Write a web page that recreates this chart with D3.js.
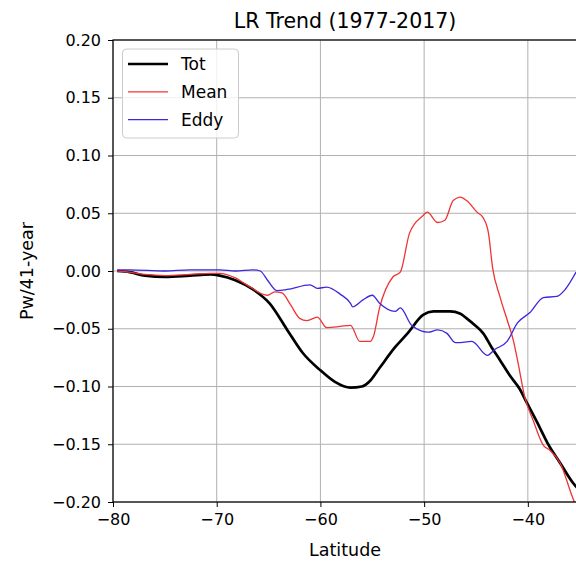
<!DOCTYPE html>
<html>
<head>
<meta charset="utf-8">
<script src="https://cdn.jsdelivr.net/npm/d3@7"></script>
<style>
  html, body { margin: 0; padding: 0; background: #fff; }
  svg { display: block; font-family: "DejaVu Sans", sans-serif; }
</style>
</head>
<body>
<svg id="chart" width="576" height="562"></svg>
<script>
// Long-term (1977-2017) trend of poleward transport by latitude
const totLat = [-79.6,-78.4,-76.9,-75.0,-72.6,-70.6,-69.7,-68.2,-66.5,-64.9,-63.2,-61.7,-60.0,-58.6,-57.1,-56.0,-55.2,-54.3,-52.8,-51.6,-50.1,-49.1,-47.5,-46.5,-45.9,-45.1,-44.3,-43.5,-42.7,-41.7,-40.8,-40.1,-39.1,-38.1,-36.9,-35.6,-35.0];
const totVal = [0,-0.001,-0.004,-0.005,-0.004,-0.003,-0.004,-0.008,-0.016,-0.028,-0.051,-0.071,-0.086,-0.096,-0.101,-0.100,-0.095,-0.084,-0.066,-0.054,-0.038,-0.035,-0.035,-0.037,-0.041,-0.047,-0.054,-0.066,-0.077,-0.091,-0.102,-0.114,-0.131,-0.149,-0.166,-0.184,-0.190];

const meanLat = [-79.6,-78.4,-76.9,-75.0,-72.6,-70.6,-69.7,-68.2,-67.1,-65.1,-64.4,-63.7,-62.9,-62.0,-61.3,-60.3,-59.4,-58.1,-57.1,-56.2,-55.2,-54.9,-54.3,-53.0,-52.3,-51.4,-50.1,-49.7,-48.7,-48.0,-47.2,-46.5,-45.9,-44.9,-44.3,-43.8,-43.4,-42.7,-41.9,-41.4,-41.0,-40.3,-39.5,-38.5,-37.9,-36.9,-35.6,-35.0];
const meanVal = [0,-0.001,-0.003,-0.004,-0.003,-0.002,-0.002,-0.006,-0.012,-0.021,-0.018,-0.019,-0.029,-0.041,-0.043,-0.040,-0.049,-0.048,-0.047,-0.061,-0.061,-0.057,-0.032,-0.005,-0.001,0.033,0.048,0.051,0.042,0.044,0.061,0.064,0.061,0.051,0.046,0.033,0.003,-0.022,-0.045,-0.060,-0.077,-0.109,-0.129,-0.151,-0.155,-0.166,-0.198,-0.210];

const eddyLat = [-79.6,-78.4,-75.0,-72.6,-70.6,-69.7,-68.2,-66.5,-65.8,-65.1,-64.2,-63.2,-61.0,-60.3,-59.4,-58.1,-57.1,-56.9,-55.9,-55.0,-54.3,-52.8,-52.3,-51.2,-49.6,-48.7,-47.8,-47.0,-46.8,-45.4,-43.9,-43.2,-42.0,-41.0,-39.8,-38.5,-37.2,-36.4,-35.35];
const eddyVal = [0.001,0.001,0.000,0.001,0.001,0.001,0.000,0.001,0.000,-0.008,-0.017,-0.016,-0.012,-0.015,-0.014,-0.020,-0.028,-0.031,-0.025,-0.021,-0.028,-0.035,-0.032,-0.047,-0.053,-0.051,-0.054,-0.062,-0.062,-0.061,-0.073,-0.068,-0.061,-0.045,-0.036,-0.023,-0.022,-0.016,-0.001];

const xTicks = [-80, -70, -60, -50, -40];
const yTicks = [0.20, 0.15, 0.10, 0.05, 0.00, -0.05, -0.10, -0.15, -0.20];

const seriesNames = ["Tot", "Mean", "Eddy"];
const seriesColors = ["#000000", "#ee3434", "#3b27dc"];
const seriesWidths = [2.7, 1.3, 1.3];

const series = [
  { name: seriesNames[0], lat: totLat, val: totVal },
  { name: seriesNames[1], lat: meanLat, val: meanVal },
  { name: seriesNames[2], lat: eddyLat, val: eddyVal }
];

const svg = d3.select("#chart");
const plotL = 113, plotR = 577, plotT = 40, plotB = 502;

const x = d3.scaleLinear().domain([-80, -35.26]).range([plotL, plotR]);
const y = d3.scaleLinear().domain([-0.20, 0.20]).range([plotB, plotT]);

const fmtY = v => (v < 0 ? "\u2212" : "") + Math.abs(v).toFixed(2);
const fmtX = v => (v < 0 ? "\u2212" : "") + Math.abs(v);

svg.append("defs").append("clipPath").attr("id", "plotclip")
  .append("rect").attr("x", plotL).attr("y", plotT).attr("width", plotR - plotL).attr("height", plotB - plotT);

// grid
const grid = svg.append("g");
grid.selectAll("line.gx").data(xTicks).join("line")
  .attr("x1", d => x(d)).attr("x2", d => x(d)).attr("y1", plotT).attr("y2", plotB)
  .attr("stroke", "#b0b0b0").attr("stroke-width", 1);
grid.selectAll("line.gy").data(yTicks).join("line")
  .attr("x1", plotL).attr("x2", plotR).attr("y1", d => y(d)).attr("y2", d => y(d))
  .attr("stroke", "#b0b0b0").attr("stroke-width", 1);

// lines
const line = d3.line().x(d => x(d[0])).y(d => y(d[1])).curve(d3.curveMonotoneX);
const plot = svg.append("g").attr("clip-path", "url(#plotclip)");
series.forEach((s, i) => {
  const pts = s.lat.map((la, j) => [la, s.val[j]]);
  plot.append("path").datum(pts)
    .attr("d", line)
    .attr("fill", "none")
    .attr("stroke", seriesColors[i])
    .attr("stroke-width", seriesWidths[i])
    .attr("stroke-linejoin", "round");
});

// axes
const xAxis = d3.axisBottom(x).tickValues(xTicks).tickFormat(fmtX).tickSize(5).tickPadding(7);
const yAxis = d3.axisLeft(y).tickValues(yTicks).tickFormat(fmtY).tickSize(5).tickPadding(7);

const gx = svg.append("g").attr("transform", `translate(0,${plotB})`).call(xAxis);
const gy = svg.append("g").attr("transform", `translate(${plotL},0)`).call(yAxis);
[gx, gy].forEach(g => {
  g.selectAll("text").attr("font-size", 16).attr("fill", "#000").attr("font-family", "DejaVu Sans, sans-serif");
  g.selectAll(".tick line").attr("stroke", "#000").attr("stroke-width", 1);
  g.select(".domain").remove();
});

// spines
svg.append("rect").attr("x", plotL).attr("y", plotT).attr("width", plotR - plotL).attr("height", plotB - plotT)
  .attr("fill", "none").attr("stroke", "#000").attr("stroke-width", 1.2);

// title and labels
svg.append("text").attr("x", (plotL + plotR) / 2).attr("y", 28).attr("text-anchor", "middle")
  .attr("font-size", 20.5).text("LR Trend (1977-2017)");
svg.append("text").attr("x", (plotL + plotR) / 2).attr("y", 556).attr("text-anchor", "middle")
  .attr("font-size", 17.5).text("Latitude");
svg.append("text").attr("transform", `translate(33,${(plotT + plotB) / 2}) rotate(-90)`)
  .attr("text-anchor", "middle").attr("font-size", 17.5).text("Pw/41-year");

// legend
const lg = svg.append("g");
lg.append("rect").attr("x", 122.5).attr("y", 49).attr("width", 116).attr("height", 89)
  .attr("rx", 4).attr("fill", "#fff").attr("fill-opacity", 0.8)
  .attr("stroke", "#cccccc").attr("stroke-width", 1);
seriesNames.forEach((n, i) => {
  const yy = 64 + i * 27.8;
  lg.append("line").attr("x1", 128).attr("x2", 168).attr("y1", yy).attr("y2", yy)
    .attr("stroke", seriesColors[i]).attr("stroke-width", seriesWidths[i]);
  lg.append("text").attr("x", 181).attr("y", yy + 6).attr("font-size", 17).text(n);
});
</script>
</body>
</html>
